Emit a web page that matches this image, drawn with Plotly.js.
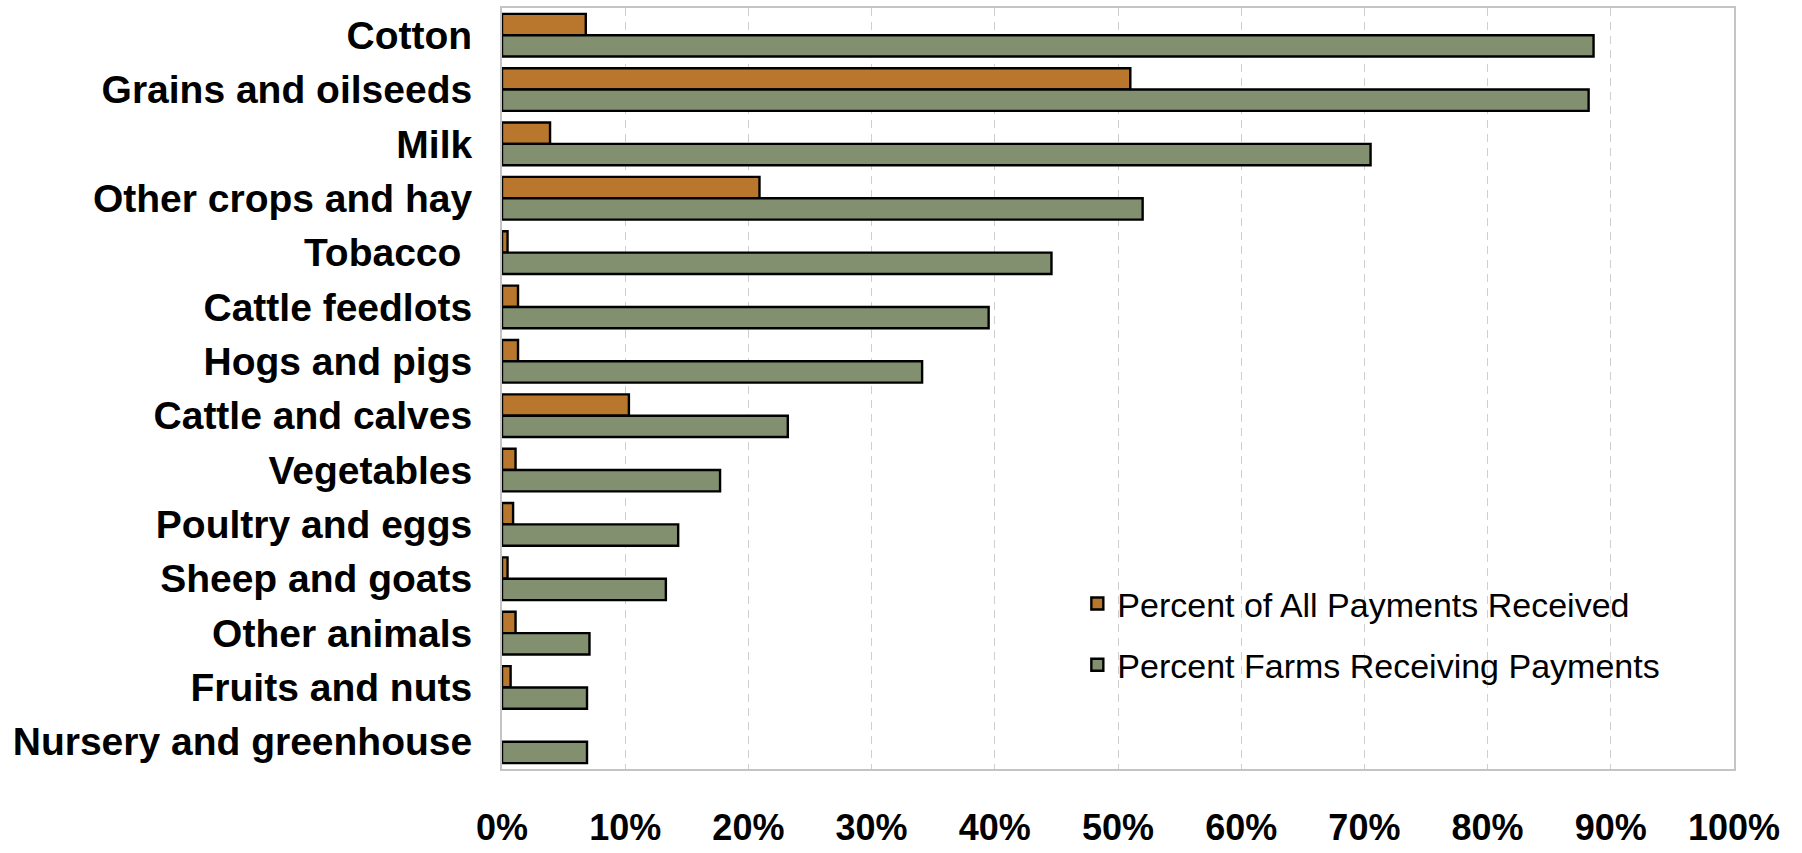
<!DOCTYPE html>
<html>
<head>
<meta charset="utf-8">
<script src="https://cdn.plot.ly/plotly-3.0.1.min.js"></script>
<style>html,body{margin:0;padding:0;background:#fff;}#chart{width:1802px;height:853px;}</style>
</head>
<body>
<div id="chart"></div>
<script>
var categories = ["Cotton", "Grains and oilseeds", "Milk", "Other crops and hay", "Tobacco\u00a0",
  "Cattle feedlots", "Hogs and pigs", "Cattle and calves", "Vegetables", "Poultry and eggs",
  "Sheep and goats", "Other animals", "Fruits and nuts", "Nursery and greenhouse"];
var paymentsShare = [6.8, 51.0, 3.9, 20.9, 0.45, 1.3, 1.3, 10.3, 1.1, 0.9, 0.45, 1.1, 0.7, null];
var farmsReceiving = [88.6, 88.2, 70.5, 52.0, 44.6, 39.5, 34.1, 23.2, 17.7, 14.3, 13.3, 7.1, 6.9, 6.9];
var seriesNames = ["Percent of All Payments Received", "Percent Farms Receiving Payments"];
var xTicks = [0, 10, 20, 30, 40, 50, 60, 70, 80, 90, 100];

var traces = [
  {type: "bar", orientation: "h", y: categories, x: paymentsShare, name: seriesNames[0],
   legendgroup: "a", marker: {color: "#B8772C", line: {color: "#000000", width: 2.4}}, hoverinfo: "x+y"},
  {type: "bar", orientation: "h", y: categories, x: farmsReceiving, name: seriesNames[1],
   legendgroup: "b", marker: {color: "#829070", line: {color: "#000000", width: 2.4}}, hoverinfo: "x+y"}
];

var layout = {
  width: 1802, height: 853,
  margin: {l: 502, r: 68, t: 8, b: 84, pad: 0},
  paper_bgcolor: "#ffffff", plot_bgcolor: "#ffffff",
  barmode: "group", bargap: 0.215, bargroupgap: 0,
  font: {family: "Liberation Sans, Arial, sans-serif", color: "#000000"},
  xaxis: {
    range: [0, 100], tickvals: xTicks, ticktext: xTicks.map(function(v){return v + "%";}),
    showgrid: true, gridcolor: "#cfcfcf", gridwidth: 1, griddash: "8px,6px",
    zeroline: false, showline: true, mirror: true, linecolor: "#c4c4c4", linewidth: 2,
    ticks: "", ticklabelstandoff: 26,
    tickfont: {family: "Liberation Sans, Arial, sans-serif", size: 36, color: "#000000", weight: "bold"}
  },
  yaxis: {
    autorange: "reversed", showgrid: false, zeroline: false,
    showline: true, mirror: true, linecolor: "#c4c4c4", linewidth: 2,
    ticks: "", ticklabelstandoff: 20,
    tickfont: {family: "Liberation Sans, Arial, sans-serif", size: 39, color: "#000000", weight: "bold"}
  },
  showlegend: true,
  legend: {
    x: 0.467, xanchor: "left", y: 0.255, yanchor: "top",
    traceorder: "grouped", tracegroupgap: 14,
    bgcolor: "rgba(0,0,0,0)", borderwidth: 0,
    font: {family: "Liberation Sans, Arial, sans-serif", size: 34, color: "#000000"}
  }
};

Plotly.newPlot("chart", traces, layout, {displayModeBar: false, staticPlot: true});
</script>
</body>
</html>
